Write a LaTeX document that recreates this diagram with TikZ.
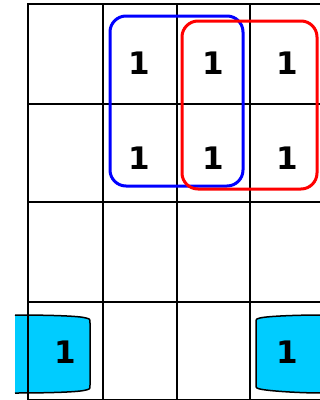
\documentclass[tikz,border=0pt]{standalone}
\usepackage{fontspec}
\setmainfont{DejaVu Sans}
\definecolor{grpcyan}{HTML}{00CCFF}
\begin{document}
\begin{tikzpicture}[x=1pt,y=-1pt,
  gridline/.style={line width=2pt,black},
  one/.style={font=\fontsize{31}{31}\selectfont\bfseries,inner sep=0pt,anchor=center},
  grpblue/.style={line width=3pt,blue,rounded corners=16pt},
  grpred/.style={line width=3pt,red,rounded corners=16pt},
  wrapgrp/.style={fill=grpcyan,draw=black,line width=1.5pt}]
\useasboundingbox (0,0) rectangle (320,400);
% wrap-around groups (cyan)
\fill[grpcyan] (15,315) .. controls (50,315) and (80,316) .. (86,318)
  .. controls (90,319) .. (90,323) -- (90,385)
  .. controls (90,389) .. (86,390)
  .. controls (80,392) and (50,393) .. (15,393) -- cycle;
\draw[black,line width=1.5pt] (15,315) .. controls (50,315) and (80,316) .. (86,318)
  .. controls (90,319) .. (90,323) -- (90,385)
  .. controls (90,389) .. (86,390)
  .. controls (80,392) and (50,393) .. (15,393);
\fill[grpcyan] (321,315) .. controls (300,315) and (268,316) .. (260,318)
  .. controls (256,319) .. (256,323) -- (256,384)
  .. controls (256,388) .. (260,389)
  .. controls (268,391) and (300,393) .. (321,393) -- cycle;
\draw[black,line width=1.5pt] (321,315) .. controls (300,315) and (268,316) .. (260,318)
  .. controls (256,319) .. (256,323) -- (256,384)
  .. controls (256,388) .. (260,389)
  .. controls (268,391) and (300,393) .. (321,393);
% grid
\foreach \x in {28,103,177,250,324} \draw[gridline] (\x,3) -- (\x,401);
\foreach \y in {4,104,202,302,400} \draw[gridline] (27,\y) -- (325,\y);
% groups
\draw[grpblue] (110,16) rectangle (243,186);
\draw[grpred] (182,21) rectangle (317,189);
% ones
\node[one] (c12) at (139,63) {1};
\node[one] (c13) at (213,63) {1};
\node[one] (c14) at (287,63) {1};
\node[one] (c22) at (139,158) {1};
\node[one] (c23) at (213,158) {1};
\node[one] (c24) at (287,158) {1};
\node[one] (c41) at (65,352) {1};
\node[one] (c44) at (287,352) {1};
\end{tikzpicture}
\end{document}
